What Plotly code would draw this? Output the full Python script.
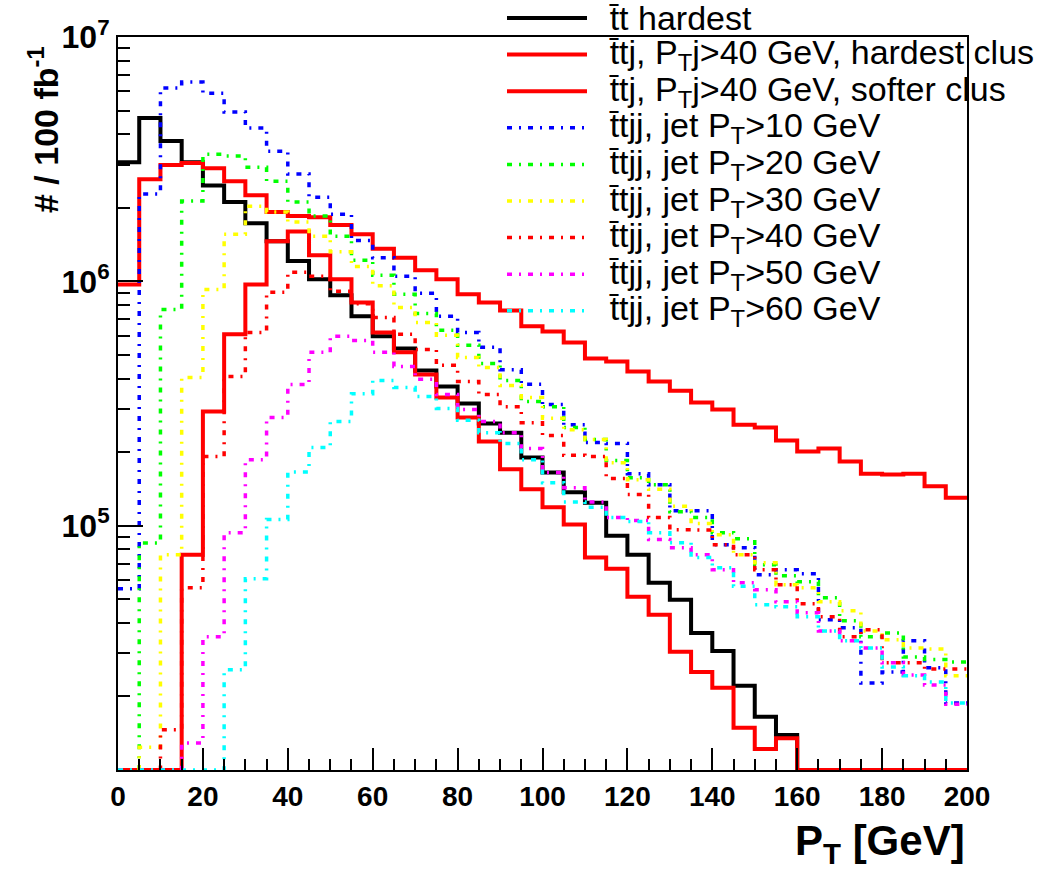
import plotly.graph_objects as go

# ---------------- data (5 GeV bins from 0 to 200 GeV) ----------------
BIN_EDGES = list(range(0, 205, 5))

tt_hardest = [3.07e6, 4.66e6, 3.75e6, 3.07e6, 2.47e6, 2.11e6, 1.73e6, 1.46e6, 1.21e6, 1.02e6,
              8.77e5, 7.19e5, 5.96e5, 5.31e5, 4.32e5, 3.71e5, 3.16e5, 2.62e5, 2.40e5, 1.90e5,
              1.65e5, 1.37e5, 1.24e5, 9.1e4, 7.6e4, 5.84e4, 4.97e4, 3.64e4, 3.07e4, 2.21e4,
              1.65e4, 1.39e4, 0, 0, 0, 0, 0, 0, 0, 0]

ttj_hardest = [9.7e5, 2.62e6, 2.99e6, 3.05e6, 2.90e6, 2.57e6, 2.25e6, 1.92e6, 1.85e6, 1.83e6,
               1.70e6, 1.56e6, 1.36e6, 1.25e6, 1.11e6, 1.02e6, 8.85e5, 8.2e5, 7.6e5, 6.55e5,
               6.24e5, 5.62e5, 4.83e5, 4.7e5, 4.28e5, 3.89e5, 3.57e5, 3.19e5, 2.99e5, 2.59e5,
               2.52e5, 2.23e5, 2.01e5, 2.07e5, 1.83e5, 1.63e5, 1.62e5, 1.63e5, 1.45e5, 1.30e5]

ttj_softer = [0, 0, 0, 7.6e4, 2.93e5, 6.07e5, 9.7e5, 1.46e6, 1.60e6, 1.28e6,
              1.02e6, 8.2e5, 6.18e5, 5.12e5, 4.16e5, 3.35e5, 2.77e5, 2.21e5, 1.70e5, 1.41e5,
              1.19e5, 1.01e5, 7.4e4, 6.67e4, 5.12e4, 4.32e4, 3.05e4, 2.52e4, 2.17e4, 1.49e4,
              1.22e4, 1.35e4, 0, 0, 0, 0, 0, 0, 0, 0]

ttjj_10 = [5.52e4, 2.28e6, 6.18e6, 6.54e6, 5.89e6, 4.93e6, 4.24e6, 3.41e6, 2.75e6, 2.21e6,
           1.88e6, 1.47e6, 1.25e6, 1.05e6, 8.93e5, 7.19e5, 6.18e5, 5.37e5, 4.35e5, 3.79e5,
           3.13e5, 2.59e5, 2.19e5, 2.17e5, 1.63e5, 1.47e5, 1.15e5, 1.15e5, 8.36e4, 8.13e4,
           6.3e4, 6.6e4, 6.36e4, 4.12e4, 3.82e4, 2.27e4, 2.52e4, 3.38e4, 2.62e4, 1.88e4]

ttjj_20 = [0, 8.5e4, 7.67e5, 2.13e6, 3.31e6, 3.26e6, 2.93e6, 2.57e6, 2.11e6, 1.85e6,
           1.53e6, 1.22e6, 1.06e6, 8.85e5, 7.39e5, 6.3e5, 5.47e5, 4.61e5, 3.93e5, 3.22e5,
           3.07e5, 2.52e5, 2.25e5, 1.85e5, 1.57e5, 1.47e5, 1.14e5, 1.08e5, 9.36e4, 8.85e4,
           6.92e4, 6.24e4, 5.9e4, 5.07e4, 4.08e4, 3.51e4, 3.64e4, 2.9e4, 2.83e4, 2.77e4]

ttjj_30 = [0, 1.24e4, 7.6e4, 4.04e5, 9.27e5, 1.56e6, 2.03e6, 1.92e6, 1.75e6, 1.53e6,
           1.32e6, 1.15e6, 9.6e5, 7.82e5, 6.79e5, 6.01e5, 4.88e5, 4.44e5, 3.75e5, 3.35e5,
           2.75e5, 2.47e5, 2.25e5, 1.81e5, 1.54e5, 1.41e5, 1.2e5, 1.02e5, 9.19e4, 7.6e4,
           7.05e4, 5.73e4, 5.57e4, 4.88e4, 4.48e4, 3.71e4, 3.41e4, 3.16e4, 3.13e4, 2.43e4]

ttjj_40 = [0, 0, 1.46e4, 5.57e4, 1.92e5, 4.08e5, 6.18e5, 9.02e5, 1.09e6, 1.05e6,
           9.1e5, 8.1e5, 7.11e5, 6.07e5, 5.26e5, 4.53e5, 3.89e5, 3.44e5, 3.07e5, 2.64e5,
           2.34e5, 1.94e5, 1.92e5, 1.56e5, 1.34e5, 1.08e5, 9.63e4, 9.6e4, 8.36e4, 7.6e4,
           6.6e4, 5.73e4, 4.79e4, 4.24e4, 3.51e4, 3.75e4, 2.75e4, 2.75e4, 2.59e4, 2.59e4]

ttjj_50 = [0, 0, 0, 1.29e4, 3.51e4, 9.36e4, 1.86e5, 2.77e5, 3.78e5, 5.12e5,
           5.96e5, 5.73e5, 5.12e5, 4.48e5, 3.97e5, 3.44e5, 2.99e5, 2.67e5, 2.4e5, 2.07e5,
           1.65e5, 1.43e5, 1.25e5, 1.08e5, 1.05e5, 8.77e4, 8.13e4, 7.6e4, 6.6e4, 5.84e4,
           5.47e4, 4.88e4, 4.4e4, 3.71e4, 3.38e4, 3.16e4, 2.75e4, 2.45e4, 2.23e4, 1.86e4]

ttjj_60 = [0, 0, 0, 0, 0, 2.57e4, 6.07e4, 1.06e5, 1.66e5, 2.09e5,
           2.67e5, 3.47e5, 3.93e5, 3.68e5, 3.38e5, 3.02e5, 2.7e5, 2.4e5, 2.17e5, 1.86e5,
           1.5e5, 1.25e5, 1.19e5, 1.08e5, 1.04e5, 9.36e4, 8.51e4, 7.4e4, 6.73e4, 5.65e4,
           4.75e4, 4.66e4, 4.24e4, 3.71e4, 3.38e4, 3.16e4, 2.64e4, 2.43e4, 2.29e4, 1.88e4]

LABELS = [
    "t\u0304t hardest",
    "t\u0304tj, P<sub>T</sub>j&gt;40 GeV, hardest clus",
    "t\u0304tj, P<sub>T</sub>j&gt;40 GeV, softer clus",
    "t\u0304tjj, jet P<sub>T</sub>&gt;10 GeV",
    "t\u0304tjj, jet P<sub>T</sub>&gt;20 GeV",
    "t\u0304tjj, jet P<sub>T</sub>&gt;30 GeV",
    "t\u0304tjj, jet P<sub>T</sub>&gt;40 GeV",
    "t\u0304tjj, jet P<sub>T</sub>&gt;50 GeV",
    "t\u0304tjj, jet P<sub>T</sub>&gt;60 GeV",
]

X_TICKS = list(range(0, 201, 20))
Y_TICKS = [1e5, 1e6, 1e7]
Y_TICKTEXT = ["10<sup>5</sup>", "10<sup>6</sup>", "10<sup>7</sup>"]

# ---------------- style ----------------
SERIES = [tt_hardest, ttj_hardest, ttj_softer, ttjj_10, ttjj_20, ttjj_30, ttjj_40, ttjj_50, ttjj_60]
COLORS = ["#000000", "#ff0000", "#ff0000", "#0000ff", "#00ff00", "#ffff00", "#ff0000", "#ff00ff", "#00ffff"]
DASHDOT = "5px,7px,2px,7px"
DASHES = ["solid", "solid", "solid"] + [DASHDOT] * 6
WIDTHS = [4, 4, 4] + [3.5] * 6

YMIN_LOG, YMAX_LOG = 4, 7
YMIN = 10 ** YMIN_LOG
FONT = "Liberation Sans, Arial, Helvetica, sans-serif"

W, H = 1049, 871
ML, MR, MT, MB = 118, 82, 37, 101
PW, PH = W - ML - MR, H - MT - MB


def px_to_paper_x(px):
    return (px - ML) / PW


def px_to_paper_y(py):
    return (H - MB - py) / PH


fig = go.Figure()
for vals, col, dash, wd, lab in zip(SERIES, COLORS, DASHES, WIDTHS, LABELS):
    yv = [v if v > 0 else YMIN for v in vals]
    yv = yv + [yv[-1]]
    fig.add_trace(go.Scatter(
        x=BIN_EDGES, y=yv, mode="lines", line_shape="hv",
        line=dict(color=col, width=wd, dash=dash),
        name=lab, showlegend=False, hoverinfo="skip"))

# ---------------- legend (hand-made, ROOT-like) ----------------
LEG_ROW0, LEG_DY = 18, 36.6
LEG_X0, LEG_X1, LEG_TX = 507, 587, 607
for i, (col, dash, wd, lab) in enumerate(zip(COLORS, DASHES, WIDTHS, LABELS)):
    yp = px_to_paper_y(LEG_ROW0 + i * LEG_DY)
    fig.add_shape(type="line", xref="paper", yref="paper",
                  x0=px_to_paper_x(LEG_X0), x1=px_to_paper_x(LEG_X1), y0=yp, y1=yp,
                  line=dict(color=col, width=wd, dash=dash))
    fig.add_annotation(xref="paper", yref="paper", x=px_to_paper_x(LEG_TX), y=yp,
                       xanchor="left", yanchor="middle", text=lab, showarrow=False,
                       font=dict(family=FONT, size=34, color="black"))

# axis titles
fig.add_annotation(xref="paper", yref="paper", x=px_to_paper_x(44), y=px_to_paper_y(130),
                   text="<b># / 100 fb<sup>-1</sup></b>", textangle=-90, showarrow=False,
                   xanchor="center", yanchor="middle",
                   font=dict(family=FONT, size=34, color="black"))
fig.add_annotation(xref="paper", yref="paper", x=1.0, y=px_to_paper_y(843),
                   text="<b>P<sub>T</sub> [GeV]</b>", showarrow=False,
                   xanchor="right", yanchor="middle",
                   font=dict(family=FONT, size=42, color="black"))

y_minor = [m * 10 ** d for d in range(YMIN_LOG, YMAX_LOG) for m in range(2, 10)]

fig.update_layout(
    width=W, height=H,
    margin=dict(l=ML, r=MR, t=MT, b=MB, pad=0),
    paper_bgcolor="white", plot_bgcolor="white",
    showlegend=False,
    xaxis=dict(range=[0, 200], tickmode="array", tickvals=X_TICKS,
               ticks="inside", ticklen=22, tickwidth=2, tickcolor="black",
               minor=dict(ticks="inside", ticklen=11, tickwidth=2, tickcolor="black", dtick=5, tick0=0),
               showline=True, linecolor="black", linewidth=2, mirror=True,
               showgrid=False, zeroline=False,
               tickfont=dict(family=FONT, size=28, color="black", weight="bold")),
    yaxis=dict(type="log", range=[YMIN_LOG, YMAX_LOG], tickmode="array",
               tickvals=Y_TICKS, ticktext=Y_TICKTEXT,
               ticks="inside", ticklen=25, tickwidth=2, tickcolor="black",
               minor=dict(ticks="inside", ticklen=12, tickwidth=2, tickcolor="black",
                          tickmode="array", tickvals=y_minor),
               showline=True, linecolor="black", linewidth=2, mirror=True,
               showgrid=False, zeroline=False,
               tickfont=dict(family=FONT, size=32, color="black", weight="bold")),
)

fig.write_html("out.html")
